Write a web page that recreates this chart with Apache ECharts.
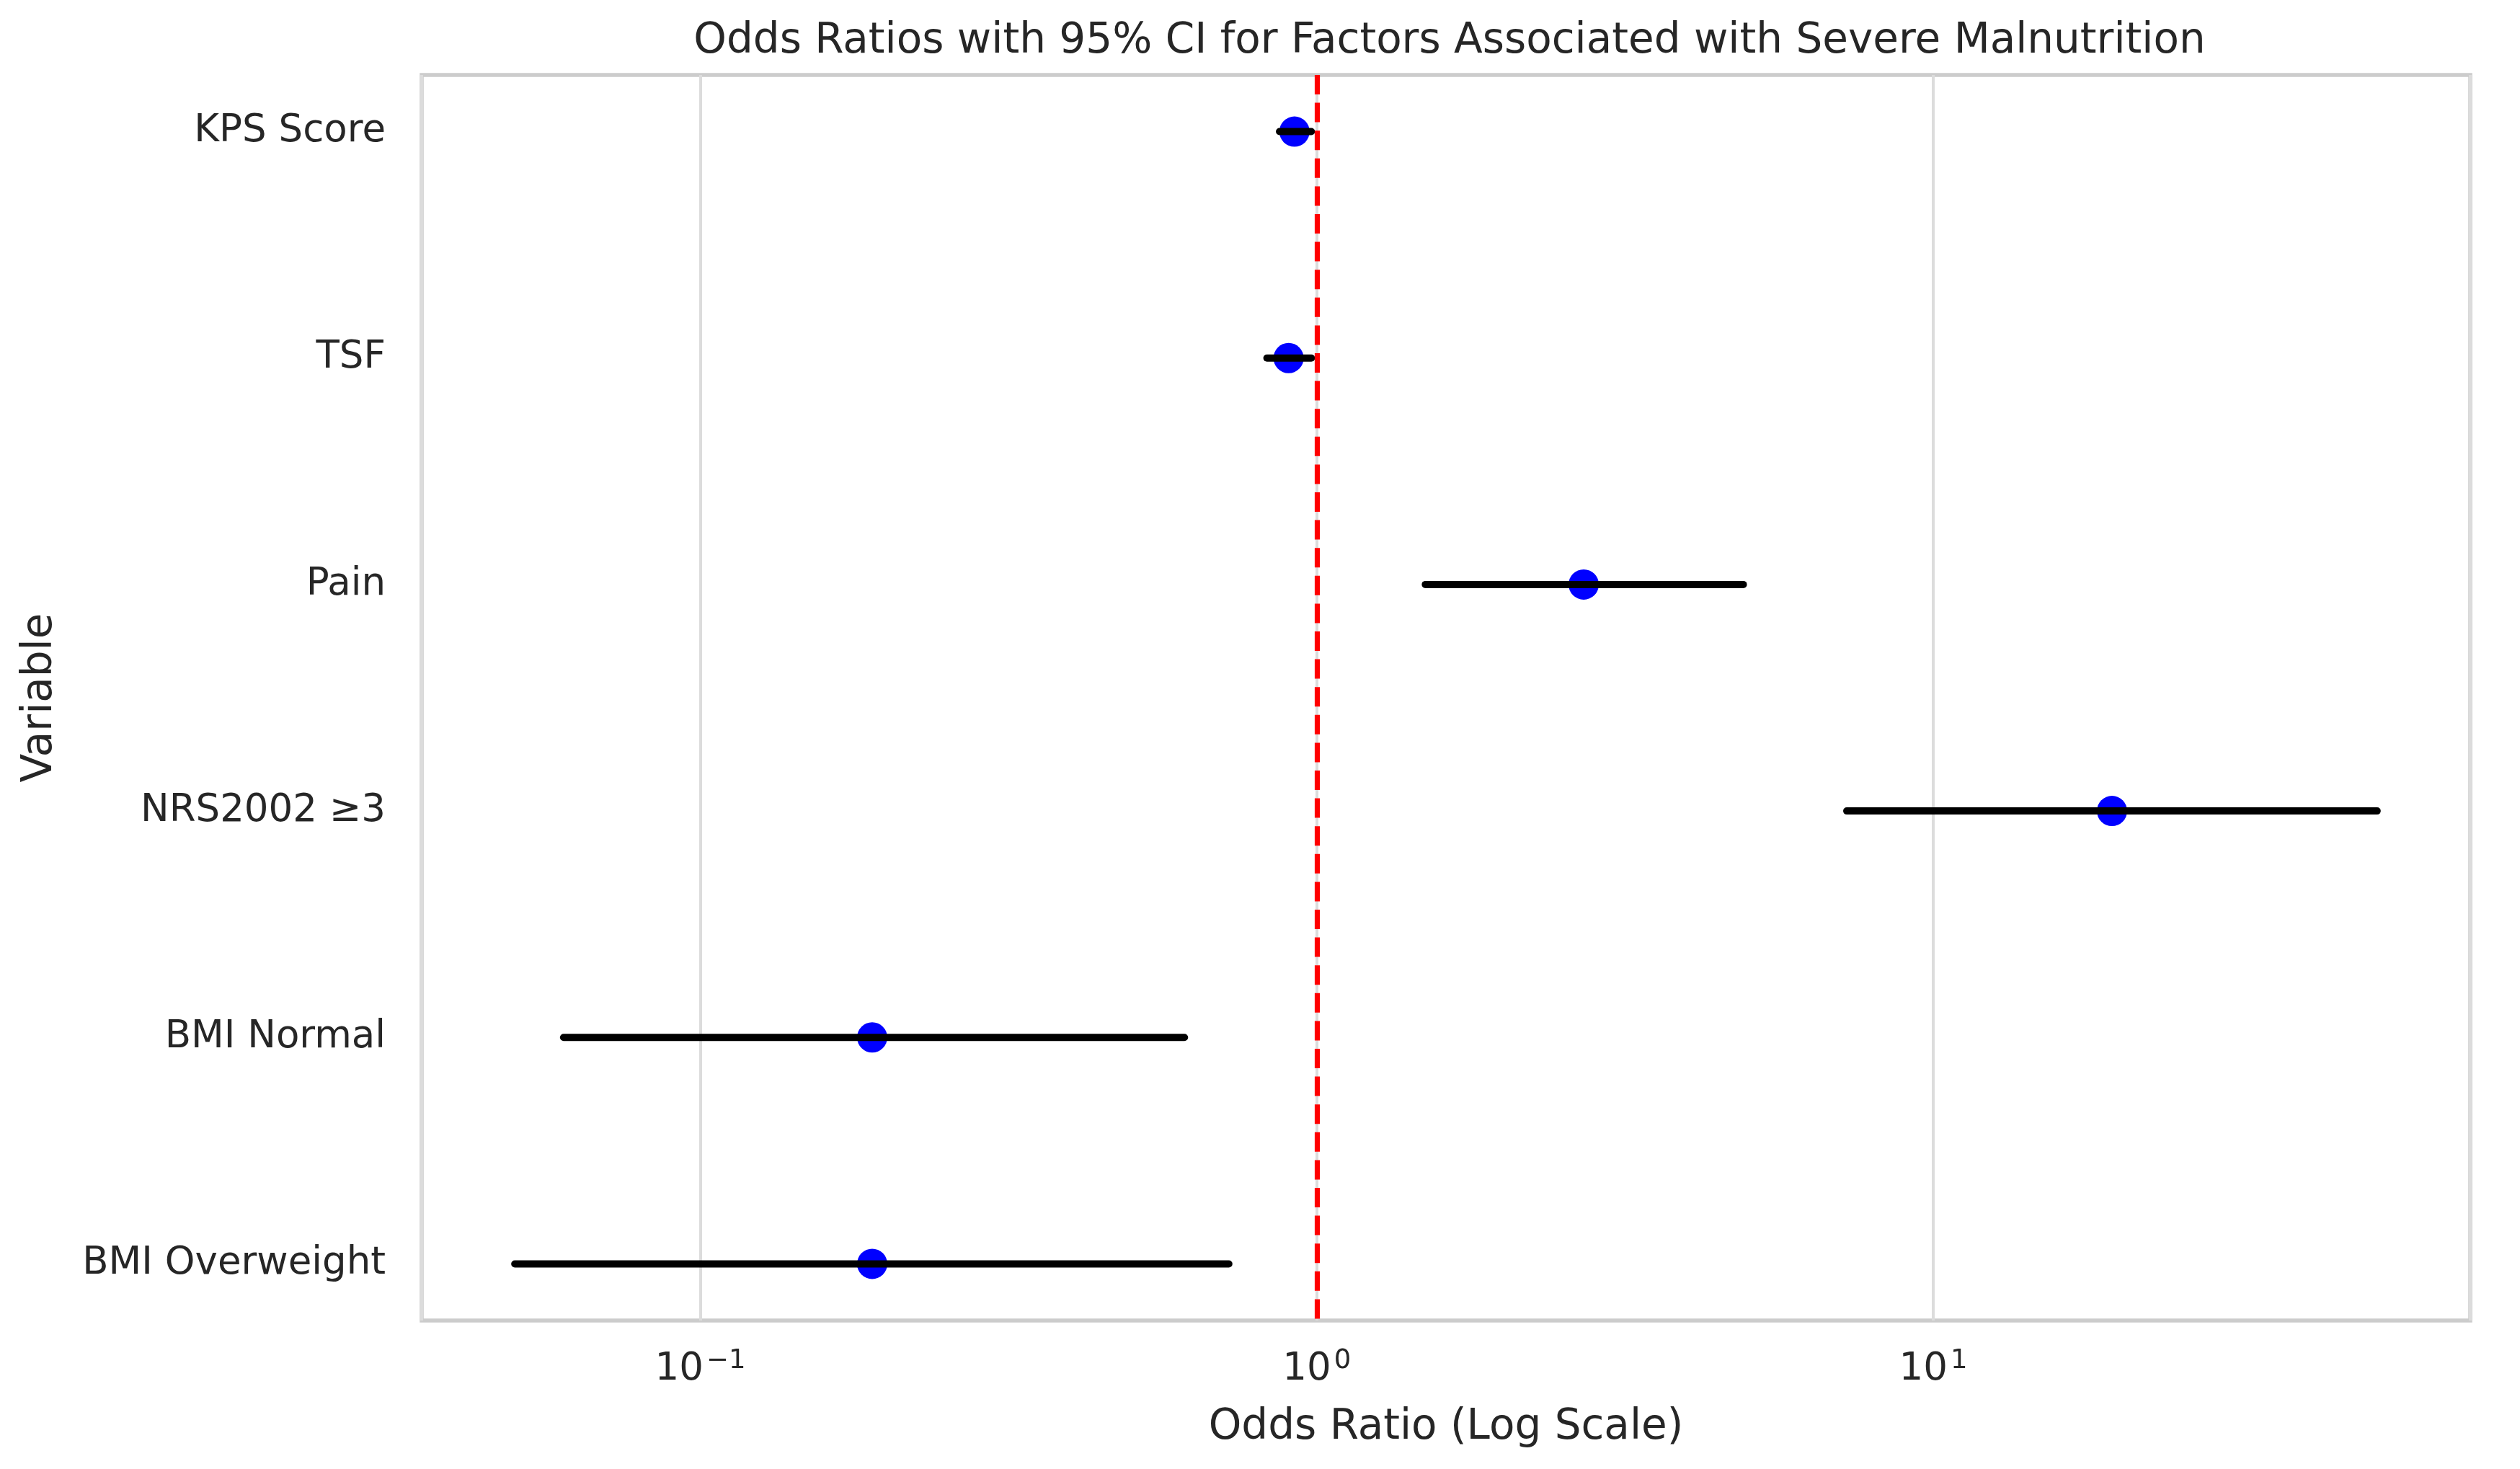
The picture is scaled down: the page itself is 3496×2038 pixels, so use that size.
<!DOCTYPE html>
<html>
<head>
<meta charset="utf-8">
<script src="https://cdn.jsdelivr.net/npm/echarts@6/dist/echarts.min.js"></script>
<style>
html,body{margin:0;padding:0;background:#fff;}
#chart{width:3496px;height:2038px;}
</style>
</head>
<body>
<div id="chart"></div>
<script>
// ---- data ----
const categories = ['KPS Score', 'TSF', 'Pain', 'NRS2002 ≥3', 'BMI Normal', 'BMI Overweight'];
const oddsRatio = [0.92, 0.90, 2.71, 19.5, 0.19, 0.19];
const ciLower = [0.87, 0.83, 1.50, 7.24, 0.060, 0.050];
const ciUpper = [0.98, 0.98, 4.92, 52.5, 0.61, 0.72];
const xTickValues = [0.1, 1, 10];
const xTickExponents = ['−1', '0', '1'];
const referenceOR = 1;

// ---- derived ----
const logMin = Math.log10(Math.min.apply(null, ciLower));
const logMax = Math.log10(Math.max.apply(null, ciUpper));
const logPad = (logMax - logMin) * 0.05;
const xMin = Math.pow(10, logMin - logPad);
const xMax = Math.pow(10, logMax + logPad);

const pointData = oddsRatio.map((v, i) => [v, i]);
const ciData = categories.map((c, i) => [i, ciLower[i], ciUpper[i]]);

const textColor = '#262626';
const chart = echarts.init(document.getElementById('chart'), null, {renderer: 'canvas'});

chart.setOption({
  animation: false,
  backgroundColor: '#ffffff',
  title: {
    text: 'Odds Ratios with 95% CI for Factors Associated with Severe Malnutrition',
    left: 2006,
    textAlign: 'center',
    top: 24,
    textStyle: {fontFamily: 'DejaVu Sans', fontSize: 58, fontWeight: 'normal', color: textColor}
  },
  grid: {
    left: 585, right: 69, top: 104, bottom: 206,
    show: true, borderColor: '#cccccc', borderWidth: 5.5, backgroundColor: 'transparent'
  },
  xAxis: {
    type: 'log',
    logBase: 10,
    min: xMin,
    max: xMax,
    name: 'Odds Ratio (Log Scale)',
    nameLocation: 'middle',
    nameGap: 120,
    nameTextStyle: {fontFamily: 'DejaVu Sans', fontSize: 58, color: textColor},
    axisLine: {show: false},
    axisTick: {show: false},
    minorTick: {show: false},
    splitLine: {show: true, lineStyle: {color: '#dcdcdc', width: 4}},
    axisLabel: {
      margin: 38,
      color: textColor,
      fontFamily: 'DejaVu Sans',
      formatter: function (v) {
        for (let k = 0; k < xTickValues.length; k++) {
          if (Math.abs(Math.log10(v) - Math.log10(xTickValues[k])) < 1e-6) {
            return '{b|10}{s|' + xTickExponents[k] + '}';
          }
        }
        return '';
      },
      rich: {
        b: {fontFamily: 'DejaVu Sans', fontSize: 53, lineHeight: 60, color: textColor},
        s: {fontFamily: 'DejaVu Sans', fontSize: 37, lineHeight: 32, verticalAlign: 'top', color: textColor, padding: [0, 0, 0, 4]}
      }
    }
  },
  yAxis: {
    type: 'value',
    min: -0.25,
    max: categories.length - 0.75,
    inverse: true,
    name: 'Variable',
    nameLocation: 'middle',
    nameGap: 500,
    nameTextStyle: {fontFamily: 'DejaVu Sans', fontSize: 58, color: textColor},
    axisLine: {show: false},
    axisTick: {show: false},
    splitLine: {show: false},
    axisLabel: {
      customValues: categories.map((c, i) => i),
      margin: 50,
      color: textColor,
      fontFamily: 'DejaVu Sans',
      fontSize: 53,
      padding: [9, 0, 0, 0],
      formatter: function (v) {
        const i = Math.round(v);
        return Math.abs(v - i) < 1e-6 && categories[i] !== undefined ? categories[i] : '';
      }
    }
  },
  series: [
    {
      type: 'scatter',
      name: 'Odds Ratio',
      data: pointData,
      symbol: 'circle',
      symbolSize: 42,
      itemStyle: {color: '#0000ff', opacity: 1},
      z: 2
    },
    {
      type: 'custom',
      name: '95% CI',
      data: ciData,
      encode: {x: [1, 2], y: 0},
      z: 3,
      renderItem: function (params, api) {
        const y = api.value(0);
        const p1 = api.coord([api.value(1), y]);
        const p2 = api.coord([api.value(2), y]);
        return {
          type: 'line',
          shape: {x1: p1[0], y1: p1[1], x2: p2[0], y2: p2[1]},
          style: {stroke: '#000000', lineWidth: 10, lineCap: 'round'}
        };
      }
    },
    {
      type: 'line',
      name: 'reference',
      data: [],
      z: 5,
      markLine: {
        silent: true,
        symbol: ['none', 'none'],
        label: {show: false},
        lineStyle: {color: '#ff0000', width: 7.2, type: [27, 11.6], opacity: 1},
        data: [{xAxis: referenceOR}]
      }
    }
  ]
});
</script>
</body>
</html>
